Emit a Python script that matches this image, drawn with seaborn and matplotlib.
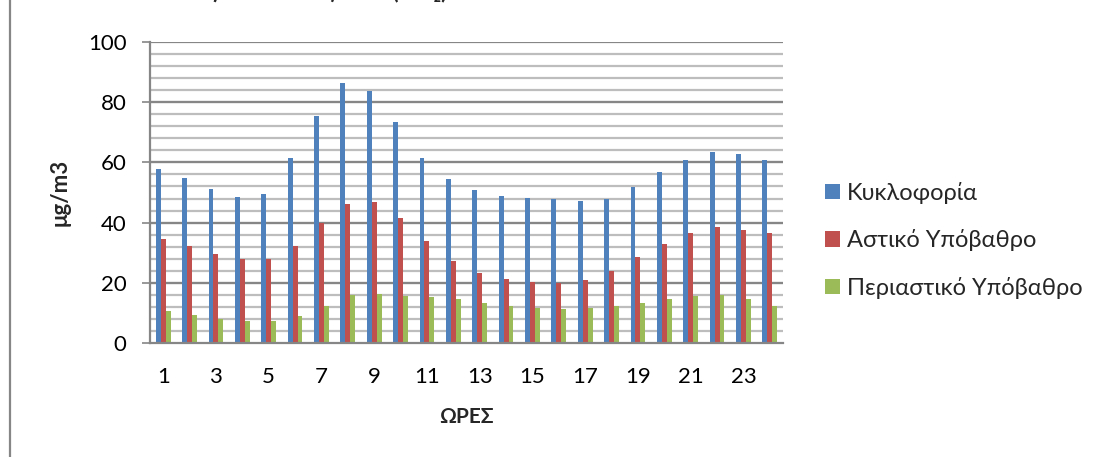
import numpy as np
import pandas as pd
import matplotlib
matplotlib.use("Agg")
import matplotlib.pyplot as plt
from matplotlib.patches import Rectangle, Patch
import seaborn as sns

# Hourly mean NO2 concentrations (μg/m3) per station type
hours = list(range(1, 25))
traffic = [57.7, 54.7, 51.2, 48.5, 49.5, 61.5, 75.4, 86.5, 83.8, 73.3, 61.6, 54.4,
           50.8, 48.9, 48.1, 47.7, 47.2, 47.9, 51.8, 56.8, 60.8, 63.4, 62.8, 60.8]
urban_bg = [34.7, 32.2, 29.7, 27.9, 27.8, 32.2, 39.8, 46.2, 46.7, 41.6, 33.9, 27.2,
            23.2, 21.2, 20.2, 20.0, 20.8, 24.0, 28.5, 32.9, 36.5, 38.4, 37.5, 36.4]
suburban_bg = [10.6, 9.2, 8.1, 7.4, 7.4, 9.0, 12.4, 16.0, 16.2, 15.6, 15.2, 14.6,
               13.4, 12.4, 11.6, 11.3, 11.5, 12.3, 13.2, 14.5, 15.7, 16.0, 14.7, 12.4]
series_names = ["Κυκλοφορία", "Αστικό Υπόβαθρο", "Περιαστικό Υπόβαθρο"]
series_colors = ["#4F81BD", "#C0504D", "#9BBB59"]
y_ticks = [0, 20, 40, 60, 80, 100]
x_tick_labels = [str(h) for h in hours[::2]]

df = pd.DataFrame({
    "hour": hours * 3,
    "value": traffic + urban_bg + suburban_bg,
    "series": sum([[n] * len(hours) for n in series_names], []),
})

sns.set_theme(style="white")
plt.rcParams["font.family"] = ["Lato", "DejaVu Sans"]

W, H, DPI = 1104, 457, 100
fig = plt.figure(figsize=(W / DPI, H / DPI), dpi=DPI)
ax = fig.add_axes([150 / W, 1 - 343 / H, (783 - 150) / W, (343 - 42) / H])

sns.barplot(data=df, x="hour", y="value", hue="series", hue_order=series_names,
            palette=series_colors, saturation=1, width=0.56, dodge=True,
            linewidth=0, legend=False, ax=ax, zorder=3)

# gridlines: light every 4 units, darker at the labelled values
ax.set_ylim(0, 100)
ax.set_xlim(-0.5, len(hours) - 0.5)
for v in np.arange(4, 100, 4):
    ax.axhline(v, color="#BDBDBD", lw=1.6, zorder=1)
for v in y_ticks[1:]:
    ax.axhline(v, color="#868686", lw=1.6, zorder=2)

ax.set_yticks(y_ticks)
ax.set_yticklabels([str(t) for t in y_ticks], fontsize=16, color="black")
ax.set_xticks(range(0, len(hours), 2))
ax.set_xticklabels(x_tick_labels, fontsize=16, color="black")
ax.tick_params(axis="y", which="major", length=6, width=1.2, color="#868686",
               pad=11, left=True, direction="out")
ax.tick_params(axis="x", length=0, pad=17)

for side in ["top", "right"]:
    ax.spines[side].set_visible(False)
for side in ["left", "bottom"]:
    ax.spines[side].set_color("#868686")
    ax.spines[side].set_linewidth(1.6)
    ax.spines[side].set_zorder(4)

ax.set_xlabel("ΩΡΕΣ", fontsize=15, fontweight="bold", labelpad=15)
ax.set_ylabel("μg/m3", fontsize=16, fontweight="bold", labelpad=12)

handles = [Patch(facecolor=c, edgecolor="none", label=n)
           for n, c in zip(series_names, series_colors)]
fig.legend(handles=handles, loc="upper left",
           bbox_to_anchor=(813 / W, 1 - 170 / H), frameon=False, fontsize=17,
           handlelength=0.65, handleheight=0.65, handletextpad=0.3,
           labelspacing=1.08, borderpad=0)

# chart frame
fig.patches.append(Rectangle((10 / W, -0.2), 1.2, 1.2 + (1 - 12 / H),
                             transform=fig.transFigure, fill=False,
                             edgecolor="#868686", lw=1.6))

fig.text(447 / W, 1 + 2 / H, "Διοξείδιο του αζώτου (NO₂)", ha="right",
         va="baseline", fontsize=16, fontweight="bold")

fig.savefig("out.png", dpi=DPI)
